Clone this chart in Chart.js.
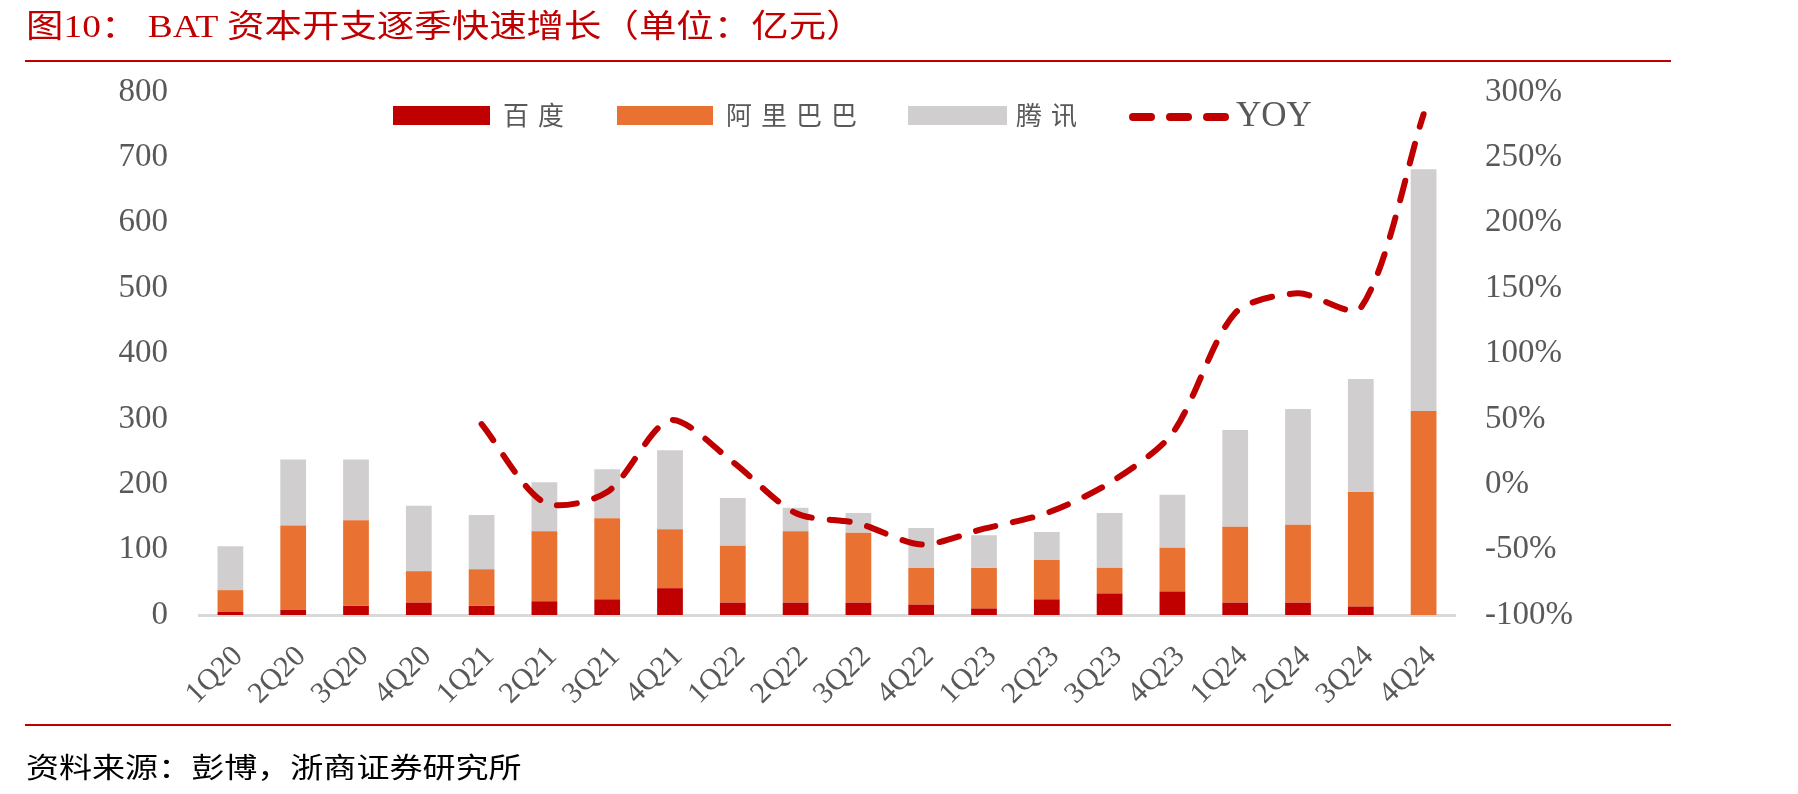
<!DOCTYPE html>
<html>
<head>
<meta charset="utf-8">
<script src="https://cdn.jsdelivr.net/npm/chart.js@4.4.1/dist/chart.umd.min.js"></script>
<style>
html,body{margin:0;padding:0;background:#fff;}
#wrap{position:relative;width:1798px;height:794px;overflow:hidden;background:#fff;}
#c{position:absolute;left:0;top:0;}
.title{position:absolute;left:26px;top:10px;font-size:32px;line-height:32px;font-family:"Liberation Serif","Noto Sans CJK SC",serif;color:#C00000;transform:scaleX(1.17);transform-origin:left center;white-space:pre;}
.rule{position:absolute;left:25px;width:1646px;height:2px;background:#C00000;}
.foot{position:absolute;left:26px;top:752px;font-size:28px;line-height:28px;font-family:"Noto Sans CJK SC",sans-serif;color:#000;transform:scaleX(1.18);transform-origin:left center;white-space:pre;}
.lbox{position:absolute;}
.ltxt{position:absolute;top:101px;font-size:26px;line-height:26px;font-family:"Noto Sans CJK SC",sans-serif;color:#595959;letter-spacing:9px;white-space:pre;}
.dash{position:absolute;top:113px;width:26px;height:8px;border-radius:4px;background:#C00000;}
.yoy{position:absolute;left:1236px;top:97px;font-size:35px;line-height:36px;font-family:"Liberation Serif",serif;color:#595959;}
</style>
</head>
<body>
<div id="wrap">
  <canvas id="c" width="1798" height="794"></canvas>
  <div class="title">图10： BAT 资本开支逐季快速增长（单位：亿元）</div>
  <div class="rule" style="top:60px"></div>
  <div class="lbox" style="left:393px;top:106px;width:97px;height:19px;background:#C00000"></div>
  <div class="ltxt" style="left:503px">百度</div>
  <div class="lbox" style="left:617px;top:106px;width:96px;height:19px;background:#E97132"></div>
  <div class="ltxt" style="left:726px">阿里巴巴</div>
  <div class="lbox" style="left:908px;top:106px;width:99px;height:19px;background:#D0CECE"></div>
  <div class="ltxt" style="left:1016px">腾讯</div>
  <div class="dash" style="left:1129px"></div>
  <div class="dash" style="left:1166px"></div>
  <div class="dash" style="left:1203px"></div>
  <div class="yoy">YOY</div>
  <div class="rule" style="top:724px"></div>
  <div class="foot">资料来源：彭博，浙商证券研究所</div>
</div>
<script>
const categories = ['1Q20','2Q20','3Q20','4Q20','1Q21','2Q21','3Q21','4Q21','1Q22','2Q22','3Q22','4Q22','1Q23','2Q23','3Q23','4Q23','1Q24','2Q24','3Q24','4Q24'];
const baidu   = [5, 8, 14, 19, 14, 21, 24, 41, 19, 19, 19, 16, 10, 24, 33, 36, 19, 19, 13, 0];
const alibaba = [33, 129, 131, 48, 56, 107, 124, 90, 87, 109, 107, 56, 62, 60, 39, 67, 116, 119, 175, 312];
const tencent = [67, 101, 93, 100, 83, 75, 75, 121, 73, 36, 30, 61, 50, 43, 84, 81, 148, 177, 173, 370];
const yoy     = [null, null, null, null, 46, -14, -6, 49, 17, -22, -30, -46, -34, -22, 1, 39, 131, 146, 135, 283];
const leftTicks = [0, 100, 200, 300, 400, 500, 600, 700, 800];
const rightTicks = [-100, -50, 0, 50, 100, 150, 200, 250, 300];

const tickFont = {family: '"Liberation Serif", serif', size: 33};
const tickColor = '#595959';

new Chart(document.getElementById('c'), {
  data: {
    labels: categories,
    datasets: [
      {type: 'line', label: 'YOY', data: yoy, yAxisID: 'y1', order: 0,
       borderColor: '#C00000', borderWidth: 6, borderDash: [20, 18], borderCapStyle: 'round',
       borderJoinStyle: 'round', tension: 0.28, pointRadius: 0, fill: false, spanGaps: false},
      {type: 'bar', label: '百度', data: baidu, backgroundColor: '#C00000', yAxisID: 'y', order: 1,
       barPercentage: 0.41, categoryPercentage: 1},
      {type: 'bar', label: '阿里巴巴', data: alibaba, backgroundColor: '#E97132', yAxisID: 'y', order: 1,
       barPercentage: 0.41, categoryPercentage: 1},
      {type: 'bar', label: '腾讯', data: tencent, backgroundColor: '#D0CECE', yAxisID: 'y', order: 1,
       barPercentage: 0.41, categoryPercentage: 1}
    ]
  },
  options: {
    responsive: false,
    animation: false,
    devicePixelRatio: 1,
    layout: {padding: {top: 92, left: 0, right: 0, bottom: 0}},
    plugins: {legend: {display: false}, tooltip: {enabled: false}},
    scales: {
      x: {
        stacked: true, offset: true,
        grid: {display: false, drawTicks: false},
        border: {display: true, color: '#D9D9D9', width: 3},
        ticks: {font: {family: '"Liberation Serif", serif', size: 30}, color: tickColor,
                maxRotation: 45, minRotation: 45, padding: 24, labelOffset: 8, autoSkip: false},
        afterFit: (s) => { s.height = 794 - 615; }
      },
      y: {
        stacked: true, position: 'left', min: 0, max: 800,
        afterBuildTicks: (s) => { s.ticks = leftTicks.map(v => ({value: v})); },
        grid: {display: false, drawTicks: false},
        border: {display: false},
        ticks: {font: tickFont, color: tickColor, padding: 31},
        afterFit: (s) => { s.width = 199; }
      },
      y1: {
        stacked: false, position: 'right', min: -100, max: 300,
        afterBuildTicks: (s) => { s.ticks = rightTicks.map(v => ({value: v})); },
        grid: {display: false, drawTicks: false},
        border: {display: false},
        ticks: {font: tickFont, color: tickColor, padding: 30, callback: (v) => v + '%'},
        afterFit: (s) => { s.width = 1798 - 1455; }
      }
    }
  }
});
</script>
</body>
</html>
